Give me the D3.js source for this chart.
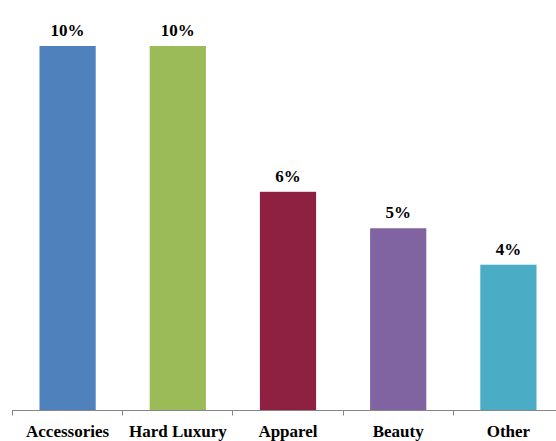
<!DOCTYPE html>
<html>
<head>
<meta charset="utf-8">
<script src="https://cdn.jsdelivr.net/npm/d3@7"></script>
<style>
  body { margin: 0; background: #fff; }
</style>
</head>
<body>
<div id="chart"></div>
<script>
const categories = ['Accessories', 'Hard Luxury', 'Apparel', 'Beauty', 'Other'];
const values = [10, 10, 6, 5, 4];
const colors = ['#4F81BD', '#9BBB59', '#8E2142', '#8064A2', '#4BACC6'];

const width = 556;
const height = 441;
const baseY = 410.5;
const topY = 46;
const font = 'Liberation Serif';

const xScale = d3.scaleBand()
  .domain(categories)
  .range([12, 563])
  .paddingInner(0.49)
  .paddingOuter(0.245);

const yScale = d3.scaleLinear()
  .domain([0, 10])
  .range([baseY, topY]);

const svg = d3.select('#chart')
  .append('svg')
  .attr('width', width)
  .attr('height', height);

svg.selectAll('rect.bar')
  .data(values)
  .enter()
  .append('rect')
  .attr('class', 'bar')
  .attr('x', (d, i) => xScale(categories[i]) + 0.5)
  .attr('y', d => yScale(d))
  .attr('width', xScale.bandwidth())
  .attr('height', d => yScale(0) - yScale(d))
  .attr('fill', (d, i) => colors[i]);

// value labels above each bar
svg.selectAll('text.val')
  .data(values)
  .enter()
  .append('text')
  .attr('class', 'val')
  .attr('x', (d, i) => xScale(categories[i]) + xScale.bandwidth() / 2 + 0.5)
  .attr('y', d => yScale(d) - 10)
  .attr('text-anchor', 'middle')
  .attr('font-family', font)
  .attr('font-weight', 'bold')
  .attr('font-size', 17)
  .text(d => d + '%');

// category axis: line with tick marks between categories
const step = xScale.step();
const axis = svg.append('g');
axis.append('line')
  .attr('x1', 12).attr('x2', 563)
  .attr('y1', baseY).attr('y2', baseY)
  .attr('stroke', '#868686')
  .attr('stroke-width', 1);

axis.selectAll('line.tick')
  .data(d3.range(categories.length + 1))
  .enter()
  .append('line')
  .attr('class', 'tick')
  .attr('x1', i => Math.round(12 + i * step) + 0.5)
  .attr('x2', i => Math.round(12 + i * step) + 0.5)
  .attr('y1', baseY)
  .attr('y2', baseY + 5)
  .attr('stroke', '#868686');

axis.selectAll('text.cat')
  .data(categories)
  .enter()
  .append('text')
  .attr('class', 'cat')
  .attr('x', d => xScale(d) + xScale.bandwidth() / 2 + 0.5)
  .attr('y', 437)
  .attr('text-anchor', 'middle')
  .attr('font-family', font)
  .attr('font-weight', 'bold')
  .attr('font-size', 17)
  .text(d => d);
</script>
</body>
</html>
